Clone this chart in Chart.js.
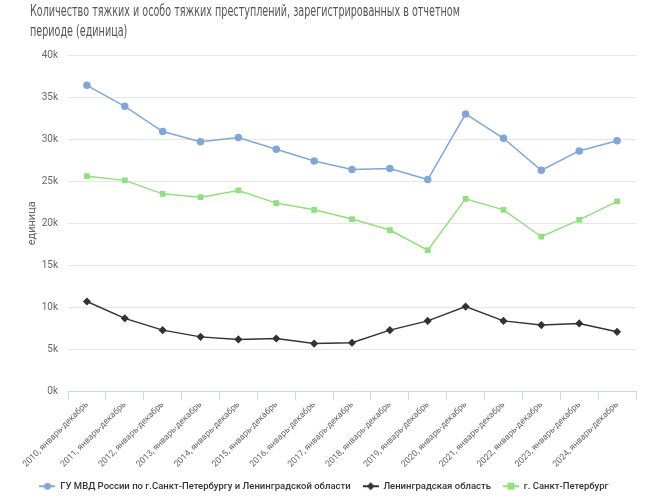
<!DOCTYPE html>
<html>
<head>
<meta charset="utf-8">
<script src="https://cdn.jsdelivr.net/npm/chart.js@4/dist/chart.umd.min.js"></script>
<style>
  html, body { margin: 0; padding: 0; background: #fff; }
  #wrap { width: 656px; height: 501px; position: relative; }
  #title {
    position: absolute; left: 30px; top: 1px;
    font-family: 'DejaVu Sans Condensed', 'Liberation Sans', sans-serif;
    font-stretch: condensed;
    font-size: 15px; line-height: 20px; color: #555;
    white-space: nowrap;
    transform-origin: 0 0;
  }
</style>
</head>
<body>
<div id="wrap">
  <div id="title">Количество тяжких и особо тяжких преступлений, зарегистрированных в отчетном<br>периоде (единица)</div>
  <canvas id="chart"></canvas>
</div>
<script>
// Data
const years = ['2010', '2011', '2012', '2013', '2014', '2015', '2016', '2017',
  '2018', '2019', '2020', '2021', '2022', '2023', '2024'];
const labels = years.map(y => y + ', январь-декабрь');

const mvdValues = [36.4, 33.9, 30.9, 29.7, 30.2, 28.8, 27.4, 26.4, 26.5, 25.2, 33.0, 30.1, 26.3, 28.6, 29.8];
const lenoblValues = [10.7, 8.7, 7.3, 6.5, 6.2, 6.3, 5.7, 5.8, 7.3, 8.4, 10.1, 8.4, 7.9, 8.1, 7.1];
const spbValues = [25.6, 25.1, 23.5, 23.1, 23.9, 22.4, 21.6, 20.5, 19.2, 16.8, 22.9, 21.6, 18.4, 20.4, 22.6];

const seriesNames = [
  'ГУ МВД России по г.Санкт-Петербургу и Ленинградской области',
  'Ленинградская область',
  'г. Санкт-Петербург'
];
const colors = ['#80a7d8', '#333333', '#90e07f'];
const markers = ['circle', 'rectRot', 'rect'];

// squeeze title line to the reference width
const titleEl = document.getElementById('title');
const firstLineWidth = 430;
const probe = document.createElement('span');
probe.style.font = getComputedStyle(titleEl).font;
probe.style.fontStretch = 'condensed';
probe.style.whiteSpace = 'nowrap';
probe.style.position = 'absolute';
probe.style.visibility = 'hidden';
probe.textContent = 'Количество тяжких и особо тяжких преступлений, зарегистрированных в отчетном';
document.body.appendChild(probe);
const w = probe.getBoundingClientRect().width;
if (w > 0) titleEl.style.transform = 'scaleX(' + Math.min(1, firstLineWidth / w) + ')';
probe.remove();

// legend marker: short line with the point on it
function legendMarker(color, style) {
  const c = document.createElement('canvas');
  c.width = 16; c.height = 10;
  const ctx = c.getContext('2d');
  ctx.strokeStyle = color;
  ctx.fillStyle = color;
  ctx.lineWidth = 2;
  ctx.beginPath();
  ctx.moveTo(0, 5); ctx.lineTo(16, 5);
  ctx.stroke();
  ctx.beginPath();
  if (style === 'circle') ctx.arc(8, 5, 3.5, 0, Math.PI * 2);
  else if (style === 'rect') ctx.rect(4.5, 1.5, 7, 7);
  else { ctx.moveTo(8, 1); ctx.lineTo(12, 5); ctx.lineTo(8, 9); ctx.lineTo(4, 5); ctx.closePath(); }
  ctx.fill();
  return c;
}

function makeDataset(i, values) {
  return {
    label: seriesNames[i],
    data: values.map(v => v * 1000),
    borderColor: colors[i],
    backgroundColor: colors[i],
    borderWidth: 1.5,
    pointStyle: markers[i],
    pointRadius: 3,
    pointHoverRadius: 4,
    tension: 0
  };
}

const chart = new Chart(document.getElementById('chart'), {
  type: 'line',
  data: {
    labels: labels,
    datasets: [
      makeDataset(0, mvdValues),
      makeDataset(1, lenoblValues),
      makeDataset(2, spbValues)
    ]
  },
  options: {
    responsive: true,
    maintainAspectRatio: false,
    animation: false,
    layout: { padding: { left: 12, right: 20, top: 55, bottom: 0 } },
    plugins: {
      title: { display: false },
      legend: {
        position: 'bottom',
        labels: {
          color: '#333333',
          font: { family: 'Roboto', size: 9.5, weight: '500' },
          usePointStyle: true,
          pointStyleWidth: 16,
          padding: 12,
          generateLabels(ch) {
            return ch.data.datasets.map((ds, i) => ({
              text: ds.label,
              fillStyle: colors[i],
              strokeStyle: colors[i],
              lineWidth: 0,
              pointStyle: legendMarker(colors[i], markers[i]),
              datasetIndex: i,
              hidden: !ch.isDatasetVisible(i),
              fontColor: '#333333'
            }));
          }
        }
      },
      tooltip: { enabled: false }
    },
    scales: {
      x: {
        offset: true,
        grid: {
          offset: true,
          drawOnChartArea: false,
          drawTicks: true,
          tickLength: 8,
          color: '#ccd6eb'
        },
        border: { display: true, color: '#ccd6eb' },
        ticks: {
          color: '#666666',
          font: { family: 'Roboto', size: 8.7 },
          maxRotation: 45,
          minRotation: 45,
          autoSkip: false,
          padding: 0
        }
      },
      y: {
        min: 0,
        max: 40000,
        afterFit(scale) { scale.width = 56; },
        ticks: {
          stepSize: 5000,
          color: '#666666',
          font: { family: 'Roboto', size: 10 },
          padding: 10,
          callback: v => (v / 1000) + 'k'
        },
        grid: { color: '#e6e6e6', drawTicks: false },
        border: { display: false },
        title: {
          display: true,
          text: 'единица',
          color: '#666666',
          font: { family: 'Roboto', size: 11 },
          padding: { top: 14, bottom: 0 }
        }
      }
    }
  }
});
</script>
</body>
</html>
